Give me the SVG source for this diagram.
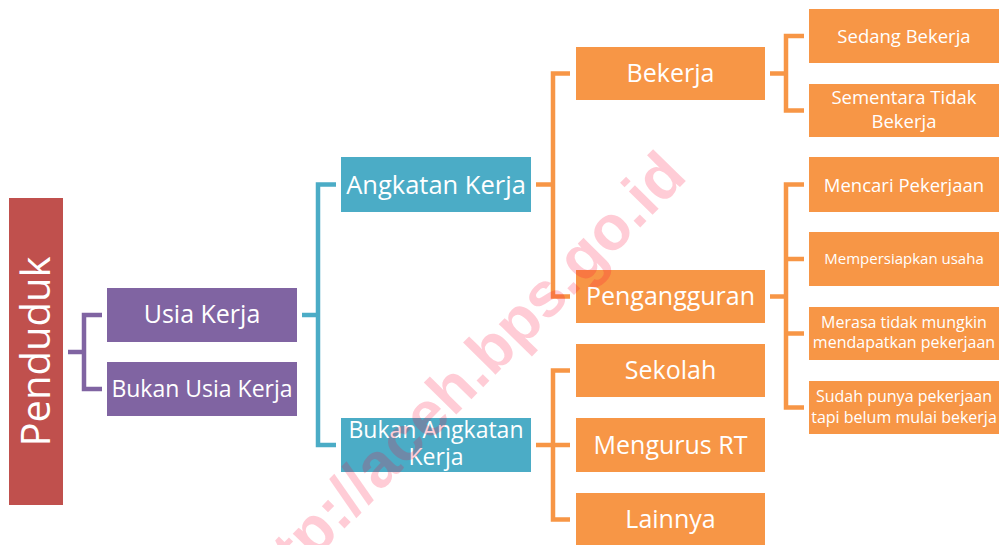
<svg xmlns="http://www.w3.org/2000/svg" width="1007" height="545" viewBox="0 0 1007 545">
<style>
.t{font-family:"Open Sans","Noto Sans","DejaVu Sans",sans-serif;fill:#fff;text-anchor:middle}
.red{fill:#C0504D}.pur{fill:#8064A2}.teal{fill:#4BACC6}.org{fill:#F79646}
.c{fill:none;stroke-width:4.5;stroke-linejoin:miter;stroke-linecap:butt}
.wm{font-family:"Liberation Sans",Arial,sans-serif;font-weight:bold;fill:#FF0033;fill-opacity:0.2}
</style>
<rect width="1007" height="545" fill="#fff"/>
<g id="connectors">
<path class="c" stroke="#8064A2" d="M68,352H84M102,315H84V389H102"/>
<path class="c" stroke="#4BACC6" d="M302,315H318M336,184.5H318V445H336"/>
<path class="c" stroke="#F79646" d="M536,184.5H553M570,73.5H553V296.5H570"/>
<path class="c" stroke="#F79646" d="M536,445H570M570,370.5H553V519.5H570"/>
<path class="c" stroke="#F79646" d="M770,73.5H786M804,36H786V110.5H804"/>
<path class="c" stroke="#F79646" d="M770,296.5H786M804,184.5H786V407.5H804M786,259H804M786,333.5H804"/>
</g>
<g id="penduduk"><rect class="red" x="9" y="198" width="54" height="307"/><text class="t" font-size="40" transform="translate(50,351.5) rotate(-90)">Penduduk</text></g>
<g id="usia-kerja"><rect class="pur" x="107" y="288" width="190" height="54"/><text class="t" x="202" y="323" font-size="25">Usia Kerja</text></g>
<g id="bukan-usia-kerja"><rect class="pur" x="107" y="362" width="190" height="54"/><text class="t" x="202" y="397" font-size="23">Bukan Usia Kerja</text></g>
<g id="angkatan-kerja"><rect class="teal" x="341" y="157" width="190" height="55"/><text class="t" x="436" y="193.5" font-size="25.5">Angkatan Kerja</text></g>
<g id="bukan-angkatan-kerja"><rect class="teal" x="341" y="418" width="190" height="54"/><text class="t" x="436" y="438" font-size="23">Bukan Angkatan</text><text class="t" x="436" y="465" font-size="23">Kerja</text></g>
<g id="bekerja"><rect class="org" x="576" y="47" width="189" height="53"/><text class="t" x="670.5" y="82" font-size="25">Bekerja</text></g>
<g id="pengangguran"><rect class="org" x="576" y="270" width="189" height="53"/><text class="t" x="670.5" y="305" font-size="25">Pengangguran</text></g>
<g id="sekolah"><rect class="org" x="576" y="344" width="189" height="53"/><text class="t" x="670.5" y="379" font-size="25">Sekolah</text></g>
<g id="mengurus-rt"><rect class="org" x="576" y="418" width="189" height="54"/><text class="t" x="670.5" y="454" font-size="25">Mengurus RT</text></g>
<g id="lainnya"><rect class="org" x="576" y="493" width="189" height="53"/><text class="t" x="670.5" y="528" font-size="25">Lainnya</text></g>
<g id="sedang-bekerja"><rect class="org" x="809" y="9" width="190" height="54"/><text class="t" x="904" y="42.5" font-size="18.5">Sedang Bekerja</text></g>
<g id="sementara-tidak-bekerja"><rect class="org" x="809" y="84" width="190" height="53"/><text class="t" x="904" y="104" font-size="18.5">Sementara Tidak</text><text class="t" x="904" y="128" font-size="18.5">Bekerja</text></g>
<g id="mencari-pekerjaan"><rect class="org" x="809" y="157" width="190" height="55"/><text class="t" x="904" y="191.5" font-size="18.5">Mencari Pekerjaan</text></g>
<g id="mempersiapkan-usaha"><rect class="org" x="809" y="232" width="190" height="54"/><text class="t" x="904" y="264" font-size="15">Mempersiapkan usaha</text></g>
<g id="merasa-tidak-mungkin"><rect class="org" x="809" y="307" width="190" height="53"/><text class="t" x="904" y="328" font-size="16">Merasa tidak mungkin</text><text class="t" x="904" y="348" font-size="16">mendapatkan pekerjaan</text></g>
<g id="sudah-punya-pekerjaan"><rect class="org" x="809" y="381" width="190" height="53"/><text class="t" x="904" y="402" font-size="16">Sudah punya pekerjaan</text><text class="t" x="904" y="423" font-size="16">tapi belum mulai bekerja</text></g>
<g id="watermark"><text class="wm" font-size="63" transform="translate(257,617.5) rotate(-45.5)">http://aceh.bps.go.id</text></g>
</svg>
